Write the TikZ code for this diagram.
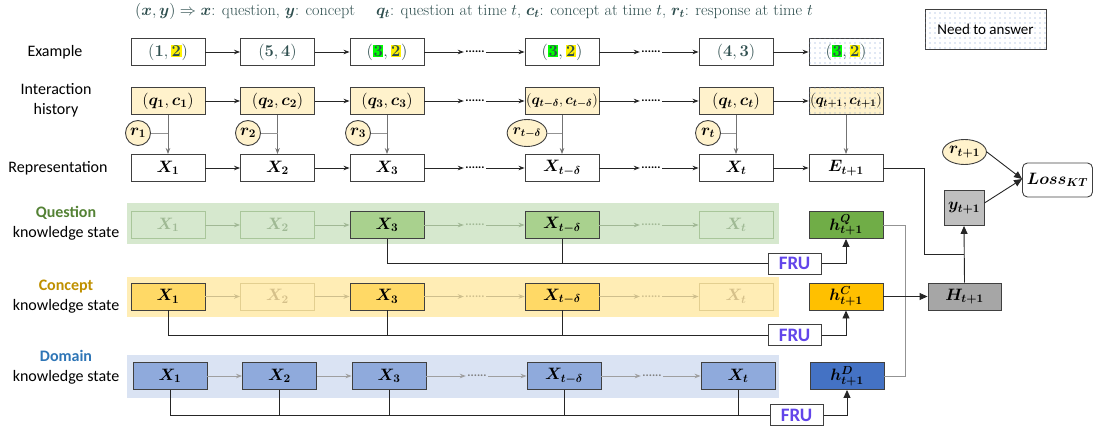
\RequirePackage{fix-cm}
\documentclass[tikz,border=0pt]{standalone}
\usepackage{fontspec}
\setsansfont{Carlito}
\usepackage{bm}
\usetikzlibrary{arrows.meta,patterns.meta,shapes.geometric}
\definecolor{slate}{HTML}{2F4F4F}
\definecolor{bd}{HTML}{404040}
\definecolor{ln}{HTML}{262626}
\definecolor{intfill}{HTML}{FFF2CC}
\definecolor{qband}{HTML}{D6E8CE}
\definecolor{qstrong}{HTML}{A9D18E}
\definecolor{qfade}{HTML}{A9C69A}
\definecolor{qfadetxt}{HTML}{9FB994}
\definecolor{hqc}{HTML}{70AD47}
\definecolor{cband}{HTML}{FFEDB5}
\definecolor{cstrong}{HTML}{FFD966}
\definecolor{cfade}{HTML}{E3CF90}
\definecolor{cfadetxt}{HTML}{D5C08A}
\definecolor{hcc}{HTML}{FFC000}
\definecolor{dband}{HTML}{DAE3F3}
\definecolor{dstrong}{HTML}{8FAADC}
\definecolor{hdc}{HTML}{4472C4}
\definecolor{Hc}{HTML}{A6A6A6}
\definecolor{yc}{HTML}{BFBFBF}
\definecolor{frucol}{HTML}{6245EA}
\definecolor{qlab}{HTML}{548235}
\definecolor{clab}{HTML}{BF9000}
\definecolor{dlab}{HTML}{2E75B6}
\definecolor{dotc}{HTML}{7F9CD0}
\definecolor{hlgreen}{HTML}{00FF00}
\newcommand\hly[1]{{\setlength\fboxsep{0.6pt}\colorbox{yellow}{$\bm{#1}$}}}
\newcommand\hlg[1]{{\setlength\fboxsep{0.6pt}\colorbox{hlgreen}{$\bm{#1}$}}}
\begin{document}
\begin{tikzpicture}[x=1pt,y=-1pt,
  lbl/.style={font=\sffamily\fontsize{16}{20}\selectfont, align=center, inner sep=0pt},
  mbox/.style={draw=bd, line width=0.9pt, minimum width=74pt, minimum height=27pt, inner sep=0pt, font=\fontsize{16.5}{18}\selectfont},
  ebox/.style={mbox, text=slate, fill=white},
  ibox/.style={mbox, fill=intfill},
  dotfill/.style={postaction={pattern={Dots[distance=5pt,radius=0.65pt]}, pattern color=dotc}},
  dotsn/.style={font=\sffamily\bfseries\fontsize{12}{12}\selectfont, inner sep=1pt, minimum width=22pt},
  rnode/.style={circle, draw=bd, line width=0.9pt, fill=intfill, minimum size=25pt, inner sep=0pt, font=\fontsize{16.5}{18}\selectfont},
  band/.style={draw=none, inner sep=0pt, minimum width=652pt},
  qf/.style={mbox, draw=qfade, text=qfadetxt},
  qs/.style={mbox, fill=qstrong},
  cfd/.style={mbox, draw=cfade, text=cfadetxt},
  cs/.style={mbox, fill=cstrong},
  ds/.style={mbox, fill=dstrong},
  fru/.style={draw=bd, line width=1pt, fill=white, minimum width=53pt, minimum height=21pt, inner sep=0pt, font=\sffamily\bfseries\fontsize{19}{19}\selectfont, text=frucol},
  arr/.style={-{Stealth[length=6pt,width=4.5pt]}, line width=0.8pt, draw=ln},
  garr/.style={-{Stealth[length=6pt,width=4.5pt]}, line width=0.8pt, draw=gray!75},
  qarr/.style={-{Stealth[length=6pt,width=4.5pt]}, line width=0.8pt, draw=qfade!80!gray},
  carr/.style={-{Stealth[length=6pt,width=4.5pt]}, line width=0.8pt, draw=cfade!80!gray},
  conn/.style={line width=0.9pt, draw=ln},
  gconn/.style={line width=0.9pt, draw=gray!85},
  big/.style={-{Triangle[length=8pt,width=7pt]}},
]
\useasboundingbox (0,0) rectangle (1094,428);

% title
\node[anchor=west, text=slate, font=\fontsize{16.2}{18}\selectfont, inner sep=0pt] (title) at (135,11)
  {$(\bm{x},\bm{y})\Rightarrow\bm{x}$: question, $\bm{y}$: concept\quad\ $\bm{q_t}$: question at time $t$, $\bm{c_t}$: concept at time $t$, $\bm{r_t}$: response at time $t$};
\node[draw=bd, line width=0.9pt, dotfill, minimum width=121pt, minimum height=40pt, inner sep=0pt, font=\sffamily\fontsize{15}{18}\selectfont] (need) at (985.5,29.5) {Need to answer};

% left labels
\node[lbl] (lex) at (55,52) {Example};
\node[lbl] (lih) at (56,100) {Interaction\\history};
\node[lbl] (lrep) at (58,168) {Representation};
\node[lbl] (lq) at (66,223) {{\bfseries\color{qlab}Question}\\knowledge state};
\node[lbl] (lc) at (66,297) {{\bfseries\color{clab}Concept}\\knowledge state};
\node[lbl] (ld) at (66,367) {{\bfseries\color{dlab}Domain}\\knowledge state};

% bands
\node[band, fill=qband, minimum height=41pt] (qbg) at (453,223.5) {};
\node[band, fill=cband, minimum height=40pt] (cbg) at (453,297) {};
\node[band, fill=dband, minimum height=43pt] (dbg) at (453,376.5) {};

% example row
\node[ebox] (e1) at (168,52) {$(\bm{1},\hly{2})$};
\node[ebox] (e2) at (277.5,52) {$(\bm{5},\bm{4})$};
\node[ebox] (e3) at (387,52) {$(\hlg{3},\hly{2})$};
\node[dotsn] (ed1) at (475,52) {......};
\node[ebox] (e4) at (562,52) {$(\hlg{3},\hly{2})$};
\node[dotsn] (ed2) at (651,52) {......};
\node[ebox] (e5) at (736,52) {$(\bm{4},\bm{3})$};
\node[ebox, dotfill] (e6) at (846,52) {$(\hlg{3},\hly{2})$};
\foreach \a/\b in {e1/e2,e2/e3,e3/ed1,ed1/e4,e4/ed2,ed2/e5,e5/e6} \draw[arr] (\a) -- (\b);

% interaction row
\node[ibox] (i1) at (168,101) {$(\bm{q_1},\bm{c_1})$};
\node[ibox] (i2) at (277.5,101) {$(\bm{q_2},\bm{c_2})$};
\node[ibox] (i3) at (387,101) {$(\bm{q_3},\bm{c_3})$};
\node[dotsn] (id1) at (475,101) {......};
\node[ibox, font=\fontsize{14.5}{16}\selectfont] (i4) at (562,101) {$(\bm{q_{t-\delta}},\bm{c_{t-\delta}})$};
\node[dotsn] (id2) at (651,101) {......};
\node[ibox] (i5) at (736,101) {$(\bm{q_t},\bm{c_t})$};
\node[ibox, dotfill, font=\fontsize{14.5}{16}\selectfont] (i6) at (846,101) {$(\bm{q_{t+1}},\bm{c_{t+1}})$};
\foreach \a/\b in {i1/i2,i2/i3,i3/id1,id1/i4,i4/id2,id2/i5,i5/i6} \draw[arr] (\a) -- (\b);

% responses
\node[rnode] (r1) at (138,133) {$\bm{r_1}$};
\node[rnode] (r2) at (248,133) {$\bm{r_2}$};
\node[rnode] (r3) at (358,133) {$\bm{r_3}$};
\node[rnode, ellipse, minimum width=37pt, minimum height=27pt, font=\fontsize{15}{16}\selectfont] (r4) at (527,133) {$\bm{r_{t-\delta}}$};
\node[rnode] (r5) at (708,133) {$\bm{r_t}$};

% representation row
\node[mbox] (x1) at (168,168) {$\bm{X_1}$};
\node[mbox] (x2) at (277.5,168) {$\bm{X_2}$};
\node[mbox] (x3) at (387,168) {$\bm{X_3}$};
\node[dotsn] (xd1) at (475,168) {......};
\node[mbox] (x4) at (562,168) {$\bm{X_{t-\delta}}$};
\node[dotsn] (xd2) at (651,168) {......};
\node[mbox] (x5) at (736,168) {$\bm{X_t}$};
\node[mbox] (E) at (846,168) {$\bm{E_{t+1}}$};
\foreach \a/\b in {x1/x2,x2/x3,x3/xd1,xd1/x4,x4/xd2,xd2/x5,x5/E} \draw[arr] (\a) -- (\b);

\foreach \i/\x in {i1/x1,i2/x2,i3/x3,i4/x4,i5/x5,i6/E} \draw[arr, draw=gray!90!black] (\i) -- (\x);
\foreach \r/\i in {r1/i1,r2/i2,r3/i3,r4/i4,r5/i5} \draw[gconn] (\r.east) -- (\r.east -| \i.south);

% question row
\node[qf] (q1) at (168,225) {$\bm{X_1}$};
\node[qf] (q2) at (277.5,225) {$\bm{X_2}$};
\node[qs] (q3) at (387,225) {$\bm{X_3}$};
\node[dotsn, text=qfade!80!gray] (qd1) at (475,225) {......};
\node[qs] (q4) at (562,225) {$\bm{X_{t-\delta}}$};
\node[dotsn, text=qfade!80!gray] (qd2) at (651,225) {......};
\node[qf] (q5) at (736,225) {$\bm{X_t}$};
\foreach \a/\b in {q1/q2,q2/q3,q3/qd1,qd1/q4,q4/qd2,qd2/q5} \draw[qarr] (\a) -- (\b);

% concept row
\node[cs] (c1) at (168,296.5) {$\bm{X_1}$};
\node[cfd] (c2) at (277.5,296.5) {$\bm{X_2}$};
\node[cs] (c3) at (387,296.5) {$\bm{X_3}$};
\node[dotsn, text=cfade!80!gray] (cd1) at (475,296.5) {......};
\node[cs] (c4) at (562,296.5) {$\bm{X_{t-\delta}}$};
\node[dotsn, text=cfade!80!gray] (cd2) at (651,296.5) {......};
\node[cfd] (c5) at (736,296.5) {$\bm{X_t}$};
\foreach \a/\b in {c1/c2,c2/c3,c3/cd1,cd1/c4,c4/cd2,cd2/c5} \draw[carr] (\a) -- (\b);

% domain row
\node[ds] (d1) at (170,376) {$\bm{X_1}$};
\node[ds] (d2) at (279.5,376) {$\bm{X_2}$};
\node[ds] (d3) at (389,376) {$\bm{X_3}$};
\node[dotsn, text=gray] (dd1) at (477,376) {......};
\node[ds] (d4) at (564,376) {$\bm{X_{t-\delta}}$};
\node[dotsn, text=gray] (dd2) at (652,376) {......};
\node[ds] (d5) at (738,376) {$\bm{X_t}$};
\foreach \a/\b in {d1/d2,d2/d3,d3/dd1,dd1/d4,d4/dd2,dd2/d5} \draw[garr] (\a) -- (\b);

% hidden states
\node[mbox, fill=hqc] (hq) at (846,225) {$\bm{h^{Q}_{t+1}}$};
\node[mbox, fill=hcc] (hc) at (846,296.5) {$\bm{h^{C}_{t+1}}$};
\node[mbox, fill=hdc] (hd) at (847,376) {$\bm{h^{D}_{t+1}}$};

% FRU
\node[fru] (fq) at (794.5,263.5) {FRU};
\node[fru] (fc) at (794.5,335) {FRU};
\node[fru] (fd) at (796.5,415) {FRU};

\draw[conn] (q3.south) |- (fq.west);
\draw[conn] (q4.south) -- (q4.south |- fq.west);
\draw[conn, big] (fq.east) -| (hq.south);

\draw[conn] (c1.south) |- (fc.west);
\draw[conn] (c3.south) -- (c3.south |- fc.west);
\draw[conn] (c4.south) -- (c4.south |- fc.west);
\draw[conn, big] (fc.east) -| (hc.south);

\draw[conn] (d1.south) |- (fd.west);
\draw[conn] (d2.south) -- (d2.south |- fd.west);
\draw[conn] (d3.south) -- (d3.south |- fd.west);
\draw[conn] (d4.south) -- (d4.south |- fd.west);
\draw[conn] (d5.south) -- (d5.south |- fd.west);
\draw[conn, big] (fd.east) -| (hd.south);

% output side
\node[mbox, fill=Hc, minimum width=73pt] (H) at (964.5,296.5) {$\bm{H_{t+1}}$};
\node[mbox, fill=yc, minimum width=40pt, minimum height=35pt] (y) at (964,208) {$\bm{y_{t+1}}$};
\node[rnode, ellipse, minimum width=41pt, minimum height=25pt] (rn) at (964.5,152) {$\bm{r_{t+1}}$};
\node[draw=bd, line width=0.9pt, rounded corners=5pt, minimum width=70pt, minimum height=34pt, inner sep=0pt, font=\fontsize{16.5}{18}\selectfont] (L) at (1057.5,180) {$\bm{Loss_{KT}}$};

\coordinate (mg) at (905,296.5);
\draw[gconn] (hq.east) -| (mg);
\draw[gconn] (hd.east) -| (mg);
\draw[conn, big] (hc.east) -- (H.west);
\draw[conn, big] (H.north) -- (y.south);
\coordinate (ej) at (924,254);
\draw[conn] (E.east) -| (ej) -- (ej -| y.south);
\draw[conn, big] (rn.east) -- ([yshift=1pt]L.west);
\draw[conn, big] ([yshift=5pt]y.east) -- ([yshift=1pt]L.west);
\end{tikzpicture}
\end{document}
